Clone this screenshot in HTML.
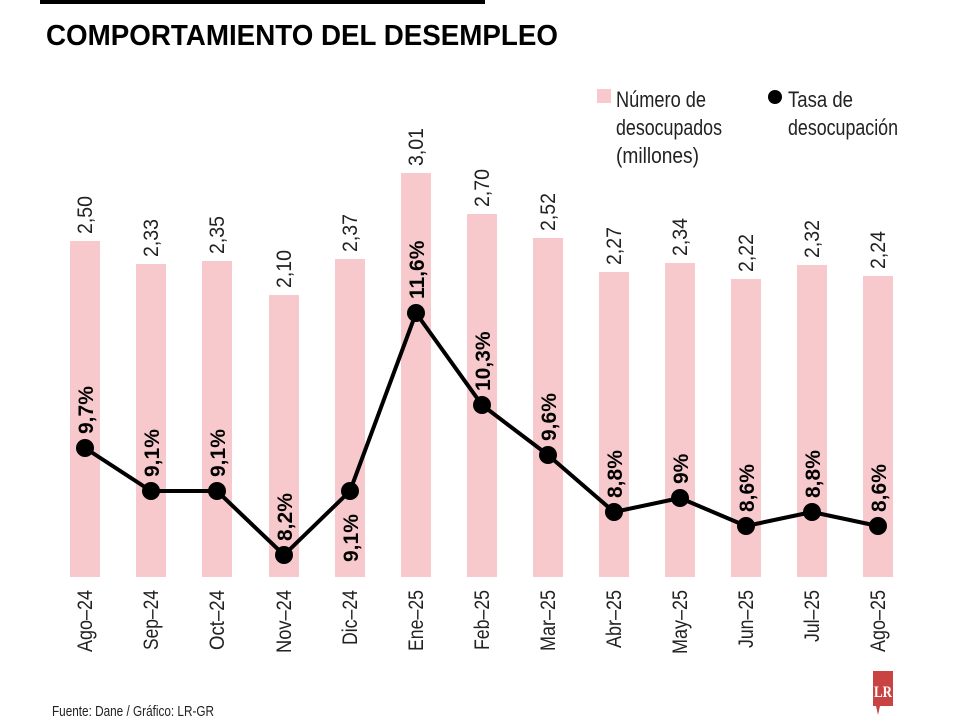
<!DOCTYPE html>
<html><head><meta charset="utf-8"><style>
body{margin:0;background:#fff}
svg text{font-family:"Liberation Sans Narrow","Liberation Sans",sans-serif}
</style></head><body>
<svg width="960" height="720" viewBox="0 0 960 720" xmlns="http://www.w3.org/2000/svg">
<rect x="40" y="0" width="445" height="4" fill="#000"/>
<text x="46" y="45" font-size="29" font-weight="bold" fill="#000" textLength="512" lengthAdjust="spacingAndGlyphs">COMPORTAMIENTO DEL DESEMPLEO</text>
<rect x="597" y="89" width="14" height="14" fill="#f7c9cc"/>
<text x="616" y="107" font-size="22" fill="#222" textLength="90" lengthAdjust="spacingAndGlyphs">Número de</text>
<text x="616" y="135" font-size="22" fill="#222" textLength="106" lengthAdjust="spacingAndGlyphs">desocupados</text>
<text x="616" y="163" font-size="22" fill="#222" textLength="83" lengthAdjust="spacingAndGlyphs">(millones)</text>
<circle cx="775" cy="97" r="7" fill="#000"/>
<text x="788" y="107" font-size="22" fill="#222" textLength="65" lengthAdjust="spacingAndGlyphs">Tasa de</text>
<text x="788" y="135" font-size="22" fill="#222" textLength="110" lengthAdjust="spacingAndGlyphs">desocupación</text>
<g fill="#f7c9cc">
<rect x="70" y="241" width="30" height="336"/>
<rect x="136" y="264" width="30" height="313"/>
<rect x="202" y="261" width="30" height="316"/>
<rect x="269" y="295" width="30" height="282"/>
<rect x="335" y="259" width="30" height="318"/>
<rect x="401" y="173" width="30" height="404"/>
<rect x="467" y="214" width="30" height="363"/>
<rect x="533" y="238" width="30" height="339"/>
<rect x="599" y="272" width="30" height="305"/>
<rect x="665" y="263" width="30" height="314"/>
<rect x="731" y="279" width="30" height="298"/>
<rect x="797" y="265" width="30" height="312"/>
<rect x="863" y="276" width="30" height="301"/>
</g>
<g font-size="21" fill="#222">
<text transform="translate(92,234) rotate(-90)" textLength="38" lengthAdjust="spacingAndGlyphs">2,50</text>
<text transform="translate(158,257) rotate(-90)" textLength="38" lengthAdjust="spacingAndGlyphs">2,33</text>
<text transform="translate(224,254) rotate(-90)" textLength="38" lengthAdjust="spacingAndGlyphs">2,35</text>
<text transform="translate(291,288) rotate(-90)" textLength="38" lengthAdjust="spacingAndGlyphs">2,10</text>
<text transform="translate(357,252) rotate(-90)" textLength="38" lengthAdjust="spacingAndGlyphs">2,37</text>
<text transform="translate(423,166) rotate(-90)" textLength="38" lengthAdjust="spacingAndGlyphs">3,01</text>
<text transform="translate(489,207) rotate(-90)" textLength="38" lengthAdjust="spacingAndGlyphs">2,70</text>
<text transform="translate(555,231) rotate(-90)" textLength="38" lengthAdjust="spacingAndGlyphs">2,52</text>
<text transform="translate(621,265) rotate(-90)" textLength="38" lengthAdjust="spacingAndGlyphs">2,27</text>
<text transform="translate(687,256) rotate(-90)" textLength="38" lengthAdjust="spacingAndGlyphs">2,34</text>
<text transform="translate(753,272) rotate(-90)" textLength="38" lengthAdjust="spacingAndGlyphs">2,22</text>
<text transform="translate(819,258) rotate(-90)" textLength="38" lengthAdjust="spacingAndGlyphs">2,32</text>
<text transform="translate(885,269) rotate(-90)" textLength="38" lengthAdjust="spacingAndGlyphs">2,24</text>
</g>
<polyline fill="none" stroke="#000" stroke-width="4" stroke-linejoin="round" points="85,448 151,491 217,491 284,555 350,491 416,313 482,405 548,455 614,512 680,498 746,526 812,512 878,526"/>
<g fill="#000">
<circle cx="85" cy="448" r="9"/><circle cx="151" cy="491" r="9"/><circle cx="217" cy="491" r="9"/><circle cx="284" cy="555" r="9"/><circle cx="350" cy="491" r="9"/><circle cx="416" cy="313" r="9"/><circle cx="482" cy="405" r="9"/><circle cx="548" cy="455" r="9"/><circle cx="614" cy="512" r="9"/><circle cx="680" cy="498" r="9"/><circle cx="746" cy="526" r="9"/><circle cx="812" cy="512" r="9"/><circle cx="878" cy="526" r="9"/>
</g>
<g font-size="21" font-weight="bold" fill="#000">
<text transform="translate(93,434) rotate(-90)">9,7%</text>
<text transform="translate(159,477) rotate(-90)">9,1%</text>
<text transform="translate(225,477) rotate(-90)">9,1%</text>
<text transform="translate(292,541) rotate(-90)">8,2%</text>
<text transform="translate(358,562) rotate(-90)">9,1%</text>
<text transform="translate(424,299) rotate(-90)">11,6%</text>
<text transform="translate(490,391) rotate(-90)">10,3%</text>
<text transform="translate(556,441) rotate(-90)">9,6%</text>
<text transform="translate(622,498) rotate(-90)">8,8%</text>
<text transform="translate(688,484) rotate(-90)">9%</text>
<text transform="translate(754,512) rotate(-90)">8,6%</text>
<text transform="translate(820,498) rotate(-90)">8,8%</text>
<text transform="translate(886,512) rotate(-90)">8,6%</text>
</g>
<g font-size="21" fill="#222" text-anchor="end" lengthAdjust="spacingAndGlyphs">
<text transform="translate(92,590) rotate(-90)" textLength="62" lengthAdjust="spacingAndGlyphs">Ago–24</text>
<text transform="translate(158,590) rotate(-90)" textLength="60" lengthAdjust="spacingAndGlyphs">Sep–24</text>
<text transform="translate(224,590) rotate(-90)" textLength="60" lengthAdjust="spacingAndGlyphs">Oct–24</text>
<text transform="translate(291,590) rotate(-90)" textLength="63" lengthAdjust="spacingAndGlyphs">Nov–24</text>
<text transform="translate(357,590) rotate(-90)" textLength="55" lengthAdjust="spacingAndGlyphs">Dic–24</text>
<text transform="translate(423,590) rotate(-90)" textLength="61" lengthAdjust="spacingAndGlyphs">Ene–25</text>
<text transform="translate(489,590) rotate(-90)" textLength="60" lengthAdjust="spacingAndGlyphs">Feb–25</text>
<text transform="translate(555,590) rotate(-90)" textLength="61" lengthAdjust="spacingAndGlyphs">Mar–25</text>
<text transform="translate(621,590) rotate(-90)" textLength="58" lengthAdjust="spacingAndGlyphs">Abr–25</text>
<text transform="translate(687,590) rotate(-90)" textLength="64" lengthAdjust="spacingAndGlyphs">May–25</text>
<text transform="translate(753,590) rotate(-90)" textLength="58" lengthAdjust="spacingAndGlyphs">Jun–25</text>
<text transform="translate(819,590) rotate(-90)" textLength="52" lengthAdjust="spacingAndGlyphs">Jul–25</text>
<text transform="translate(885,590) rotate(-90)" textLength="62" lengthAdjust="spacingAndGlyphs">Ago–25</text>
</g>
<text x="52" y="716" font-size="15" fill="#222" textLength="162" lengthAdjust="spacingAndGlyphs">Fuente: Dane / Gráfico: LR-GR</text>
<path d="M873,671 H893 V706 H880 L878,715 L876,706 H873 Z" fill="#c94343"/>
<text x="883" y="697" font-size="16" font-weight="bold" fill="#fff" text-anchor="middle" style="font-family:'Liberation Serif',serif" textLength="18" lengthAdjust="spacingAndGlyphs">LR</text>
</svg>
</body></html>
